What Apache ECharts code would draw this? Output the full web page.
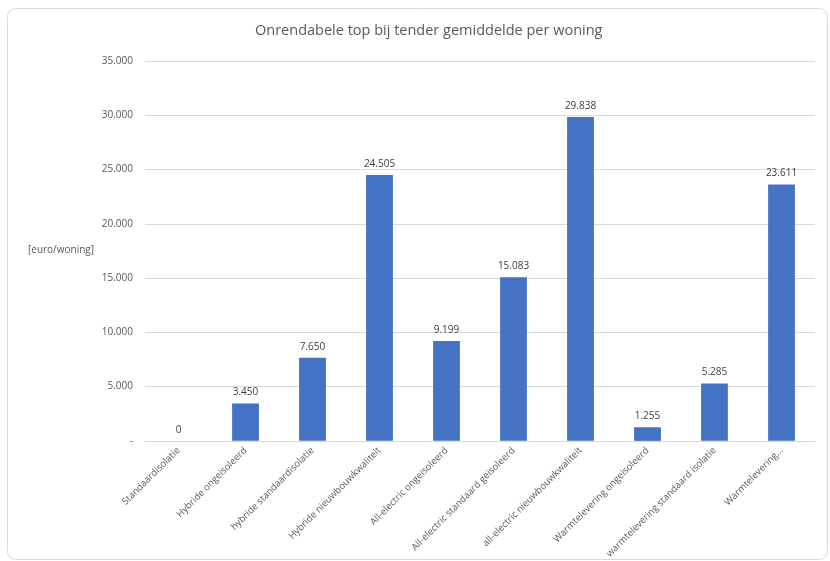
<!DOCTYPE html>
<html><head><meta charset="utf-8">
<script src="https://cdn.jsdelivr.net/npm/echarts@6/dist/echarts.min.js"></script>
<style>html,body{margin:0;padding:0;background:#fff}#c{width:830px;height:561px}</style>
</head><body><div id="c"></div>
<script>
var categories = ["Standaardisolatie","Hybride ongeisoleerd","hybride standaardisolatie","Hybride nieuwbouwkwaliteit","All-electric ongeisoleerd","All-electric standaard geisoleerd","all-electric nieuwbouwkwaliteit","Warmtelevering ongeisoleerd","warmtelevering standaard isolatie","Warmtelevering..."];
var values = [0,3450,7650,24505,9199,15083,29838,1255,5285,23611];
var titleText = "Onrendabele top bij tender gemiddelde per woning";
var yAxisLabel = "[euro/woning]";

function fmt(v){ if(v===0) return "-"; return String(v).replace(/\B(?=(\d{3})+(?!\d))/g,"."); }
function fmtLabel(v){ if(v===0) return "0"; return String(v).replace(/\B(?=(\d{3})+(?!\d))/g,"."); }

var chart = echarts.init(document.getElementById('c'), null, {renderer:'canvas'});
chart.setOption({
  animation:false,
  title:{text:titleText,left:250,top:18,textStyle:{fontFamily:'Open Sans',fontSize:14.5,fontWeight:'normal',color:'#595959'}},
  graphic:[
    {type:'rect',shape:{x:7.5,y:8.5,width:820,height:551,r:8},style:{fill:'none',stroke:'#d9d9d9',lineWidth:1},z:-1},
    {type:'text',left:28,top:245,style:{text:yAxisLabel,fontFamily:'Open Sans',fontSize:10,fill:'#595959'}}
  ],
  grid:{left:145,right:15,top:61,bottom:120,containLabel:false},
  xAxis:{type:'category',data:categories,
    axisLine:{lineStyle:{color:'#d9d9d9'}},axisTick:{show:false},
    axisLabel:{rotate:45,interval:0,margin:8,fontFamily:'Open Sans',fontSize:9.5,color:'#595959'}},
  yAxis:{type:'value',min:0,max:35000,interval:5000,
    axisLine:{show:false},axisTick:{show:false},
    splitLine:{lineStyle:{color:'#d9d9d9'}},
    axisLabel:{margin:12,formatter:fmt,fontFamily:'Open Sans',fontSize:10,color:'#595959'}},
  series:[{type:'bar',data:values,barCategoryGap:'60%',itemStyle:{color:'#4472C4'},
    label:{show:true,position:'top',distance:6,formatter:function(p){return fmtLabel(p.value);},fontFamily:'Open Sans',fontSize:10,color:'#404040'}}]
});
</script></body></html>
